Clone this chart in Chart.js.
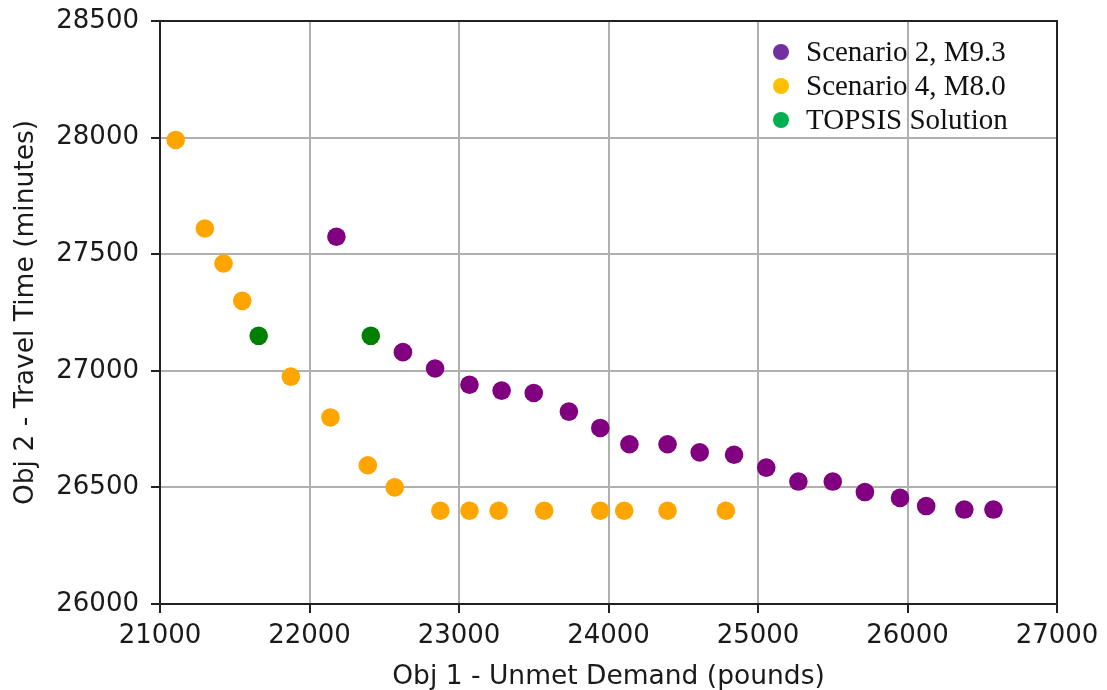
<!DOCTYPE html>
<html>
<head>
<meta charset="utf-8">
<script src="https://cdn.jsdelivr.net/npm/chart.js@4"></script>
<style>
  html, body { margin: 0; padding: 0; background: #fff; }
  #wrap { width: 1107px; height: 690px; }
</style>
</head>
<body>
<div id="wrap"><canvas id="myChart" width="1107" height="690"></canvas></div>
<script>
// Scenario 2, M9.3
const s2X = [22180, 22625, 22840, 23070, 23285, 23500, 23735, 23945, 24140, 24395,
             24610, 24840, 25055, 25270, 25500, 25715, 25950, 26125, 26380, 26575];
const s2Y = [27575, 27080, 27010, 26940, 26915, 26905, 26825, 26755, 26685, 26685,
             26650, 26640, 26585, 26525, 26525, 26480, 26455, 26420, 26405, 26405];

// Scenario 4, M8.0
const s4X = [21105, 21300, 21425, 21550, 21875, 22140, 22390, 22570,
             22875, 23070, 23265, 23570, 23945, 24105, 24395, 24785];
const s4Y = [27990, 27610, 27460, 27300, 26975, 26800, 26595, 26500,
             26400, 26400, 26400, 26400, 26400, 26400, 26400, 26400];

// TOPSIS picks
const topX = [21660, 22410];
const topY = [27150, 27150];

const seriesLabels = ['Scenario 2, M9.3', 'Scenario 4, M8.0', 'TOPSIS Solution'];
const legendColors = ['#7030A0', '#FFC000', '#00B050'];

const xTicks = [21000, 22000, 23000, 24000, 25000, 26000, 27000];
const yTicks = [26000, 26500, 27000, 27500, 28000, 28500];

const toPts = (xs, ys) => xs.map((x, i) => ({ x: x, y: ys[i] }));

// legend sits inside the plot, top right, serif text like the original
const insideLegend = {
    id: 'insideLegend',
    afterDraw(chart) {
        const ctx = chart.ctx;
        const area = chart.chartArea;
        const mx = area.right - 276;
        const y0 = area.top + 31;
        ctx.save();
        ctx.font = '29px "Liberation Serif", "Times New Roman", serif';
        ctx.textBaseline = 'middle';
        ctx.textAlign = 'left';
        seriesLabels.forEach((lab, i) => {
            const y = y0 + i * 34;
            ctx.fillStyle = legendColors[i];
            ctx.beginPath();
            ctx.arc(mx, y, 8, 0, Math.PI * 2);
            ctx.fill();
            ctx.fillStyle = '#111';
            ctx.fillText(lab, mx + 25, y + 1);
        });
        ctx.restore();
    }
};

// box round the plot (matplotlib spines)
const frame = {
    id: 'frame',
    afterDatasetsDraw(chart) {
        const ctx = chart.ctx;
        const a = chart.chartArea;
        ctx.save();
        ctx.strokeStyle = '#222';
        ctx.lineWidth = 2;
        ctx.strokeRect(a.left, a.top, a.right - a.left, a.bottom - a.top);
        ctx.restore();
    }
};

const ctx = document.getElementById('myChart');
new Chart(ctx, {
    type: 'scatter',
    data: {
        datasets: [
            {
                label: seriesLabels[0],
                data: toPts(s2X, s2Y),
                backgroundColor: '#800080',
                borderWidth: 0,
                pointRadius: 9.3
            },
            {
                label: seriesLabels[1],
                data: toPts(s4X, s4Y),
                backgroundColor: '#FFA500',
                borderWidth: 0,
                pointRadius: 9.3
            },
            {
                label: seriesLabels[2],
                data: toPts(topX, topY),
                backgroundColor: '#008000',
                borderWidth: 0,
                pointRadius: 9.3
            }
        ]
    },
    options: {
        responsive: false,
        animation: false,
        layout: {
            padding: { top: 21, right: 50, left: 0, bottom: 0 }
        },
        plugins: {
            legend: { display: false },
            tooltip: { enabled: false }
        },
        scales: {
            x: {
                type: 'linear',
                min: 21000,
                max: 27000,
                afterBuildTicks: (scale) => { scale.ticks = xTicks.map(v => ({ value: v })); },
                afterFit: (scale) => {
                    scale.height = 86;
                    scale.paddingLeft = 0;
                    scale.paddingRight = 0;
                },
                border: { color: '#222', width: 2 },
                grid: { color: '#b0b0b0', lineWidth: 2, tickColor: '#222', tickLength: 9, tickWidth: 2 },
                ticks: {
                    color: '#1a1a1a',
                    padding: 8,
                    maxRotation: 0,
                    font: { family: '"DejaVu Sans"', size: 26 },
                    callback: (v) => String(v)
                },
                title: {
                    display: true,
                    text: 'Obj 1 - Unmet Demand (pounds)',
                    color: '#1a1a1a',
                    font: { family: '"DejaVu Sans"', size: 26.5, lineHeight: 1 },
                    padding: { top: 0, bottom: 0 }
                }
            },
            y: {
                type: 'linear',
                min: 26000,
                max: 28500,
                afterBuildTicks: (scale) => { scale.ticks = yTicks.map(v => ({ value: v })); },
                afterFit: (scale) => {
                    scale.width = 160;
                    scale.paddingTop = 0;
                    scale.paddingBottom = 0;
                },
                border: { color: '#222', width: 2 },
                grid: { color: '#b0b0b0', lineWidth: 2, tickColor: '#222', tickLength: 9, tickWidth: 2 },
                ticks: {
                    color: '#1a1a1a',
                    padding: 12,
                    font: { family: '"DejaVu Sans"', size: 26 },
                    callback: (v) => String(v)
                },
                title: {
                    display: true,
                    text: 'Obj 2 - Travel Time (minutes)',
                    color: '#1a1a1a',
                    font: { family: '"DejaVu Sans"', size: 26.5, lineHeight: 1 },
                    padding: { top: 13, bottom: 0 }
                }
            }
        }
    },
    plugins: [insideLegend, frame]
});
</script>
</body>
</html>
